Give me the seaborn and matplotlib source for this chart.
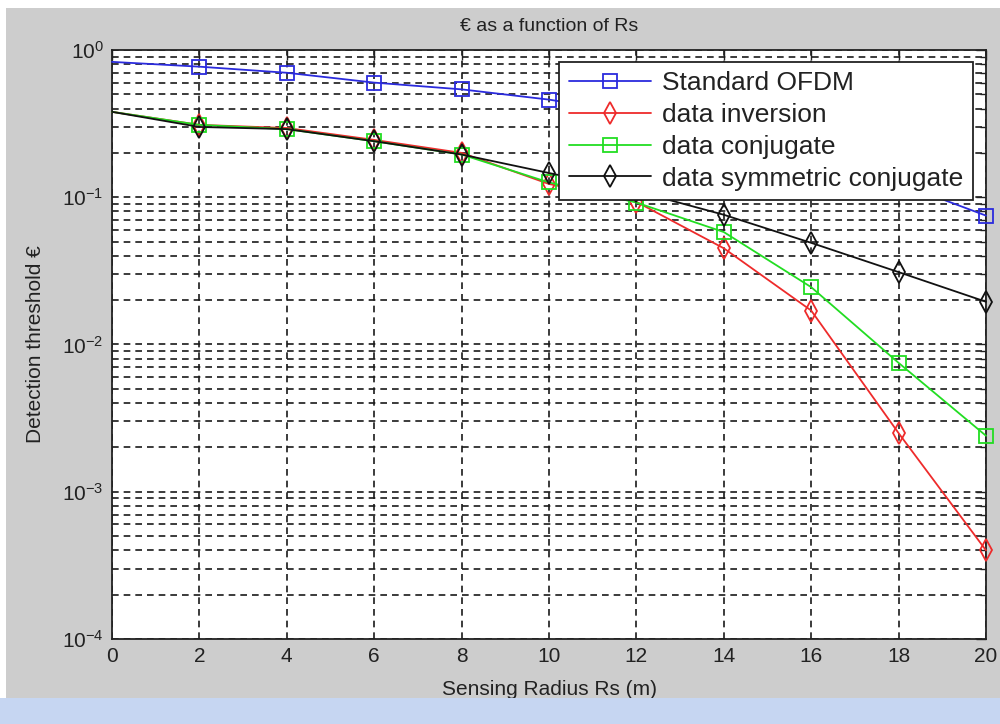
import numpy as np
import pandas as pd
import matplotlib
matplotlib.use("Agg")
import matplotlib.pyplot as plt
from matplotlib.lines import Line2D
import seaborn as sns
from matplotlib.ticker import LogLocator, NullFormatter

# ---- data ----
rs = [0, 2, 4, 6, 8, 10, 12, 14, 16, 18, 20]
standard_ofdm = [0.83, 0.77, 0.70, 0.60, 0.54, 0.46, 0.37, 0.28, 0.19, 0.125, 0.075]
data_inversion = [0.38, 0.31, 0.295, 0.245, 0.20, 0.123, 0.093, 0.045, 0.017, 0.0025, 0.0004]
data_conjugate = [0.38, 0.31, 0.29, 0.24, 0.195, 0.126, 0.092, 0.058, 0.0245, 0.0075, 0.0024]
data_sym_conj = [0.38, 0.30, 0.29, 0.24, 0.195, 0.146, 0.11, 0.076, 0.049, 0.031, 0.0195]

series_names = ["Standard OFDM", "data inversion", "data conjugate", "data symmetric conjugate"]
series_values = [standard_ofdm, data_inversion, data_conjugate, data_sym_conj]
colors = ["#2b2bdd", "#ee2b2b", "#22dd22", "#111111"]
markers = ["s", "d", "s", "d"]

title = "€ as a function of Rs"
xlabel = "Sensing Radius Rs (m)"
ylabel = "Detection threshold €"

sns.set_style("white")
plt.rcParams["font.family"] = ["Liberation Sans", "DejaVu Sans"]
plt.rcParams["mathtext.fontset"] = "custom"
plt.rcParams["mathtext.rm"] = "Liberation Sans"
plt.rcParams["mathtext.default"] = "regular"

fig = plt.figure(figsize=(10, 7.24), dpi=100)
fig.patch.set_facecolor("#cdcdcd")
fig.patches.append(matplotlib.patches.Rectangle((0, 0), 0.006, 1, transform=fig.transFigure,
                                                facecolor="white", edgecolor="none", zorder=0))
fig.patches.append(matplotlib.patches.Rectangle((0, 0.989), 1, 0.011, transform=fig.transFigure,
                                                facecolor="white", edgecolor="none", zorder=0))
fig.patches.append(matplotlib.patches.Rectangle((0, 0), 1, 0.036, transform=fig.transFigure,
                                                facecolor="#c6d6f2", edgecolor="none", zorder=0))

ax = fig.add_axes([0.112, 0.1174, 0.874, 0.8136])
ax.set_facecolor("white")

rows = []
for name, vals in zip(series_names, series_values):
    for x, v in zip(rs, vals):
        rows.append({"Rs": x, "value": v, "series": name})
df = pd.DataFrame(rows)

handles = []
for name, c, m in zip(series_names, colors, markers):
    sub = df[df["series"] == name]
    ms = 10 if m == "s" else 11
    sns.lineplot(data=sub, x="Rs", y="value", ax=ax, color=c, marker=m,
                 markersize=ms, markerfacecolor="none",
                 markeredgecolor=c, markeredgewidth=1.3, linewidth=1.3,
                 markevery=list(range(1, len(rs))),
                 legend=False, zorder=3, clip_on=False)
    handles.append(Line2D([0], [0], color=c, marker=m, markersize=ms,
                          markerfacecolor="none", markeredgecolor=c,
                          markeredgewidth=1.3, linewidth=1.3, label=name))

ax.set_yscale("log")
ax.set_xlim(0, 20)
ax.set_ylim(1e-4, 1)
ax.set_xticks(rs)
ax.yaxis.set_major_locator(LogLocator(base=10, numticks=10))
ax.yaxis.set_minor_locator(LogLocator(base=10, subs=np.arange(2, 10), numticks=10))
ax.yaxis.set_minor_formatter(NullFormatter())

ax.grid(True, which="major", axis="both", color="#1a1a1a", linestyle=(0, (4, 3)), linewidth=1.2)
ax.grid(True, which="minor", axis="y", color="#1a1a1a", linestyle=(0, (4, 3)), linewidth=1.2)
ax.tick_params(which="both", direction="in", top=True, right=True, color="#222222")
ax.tick_params(which="major", length=7, width=1, labelsize=15, pad=6, colors="#222222")
ax.tick_params(which="minor", length=4, width=1)
for s in ax.spines.values():
    s.set_color("#222222")
    s.set_linewidth(1.3)

ax.set_title(title, fontsize=14, color="#222222", pad=14)
ax.set_xlabel(xlabel, fontsize=15, color="#222222", labelpad=10)
ax.set_ylabel(ylabel, fontsize=15, color="#222222", labelpad=12)

leg = ax.legend(handles=handles, loc="upper right", bbox_to_anchor=(0.985, 0.98),
                borderaxespad=0, fontsize=19, frameon=True, fancybox=False,
                framealpha=1, edgecolor="#222222", handlelength=3.1,
                labelspacing=0.3, borderpad=0.35, handletextpad=0.45)
leg.get_frame().set_linewidth(1.3)
for t in leg.get_texts():
    t.set_color("#222222")

fig.savefig("out.png", dpi=100, facecolor=fig.get_facecolor())
